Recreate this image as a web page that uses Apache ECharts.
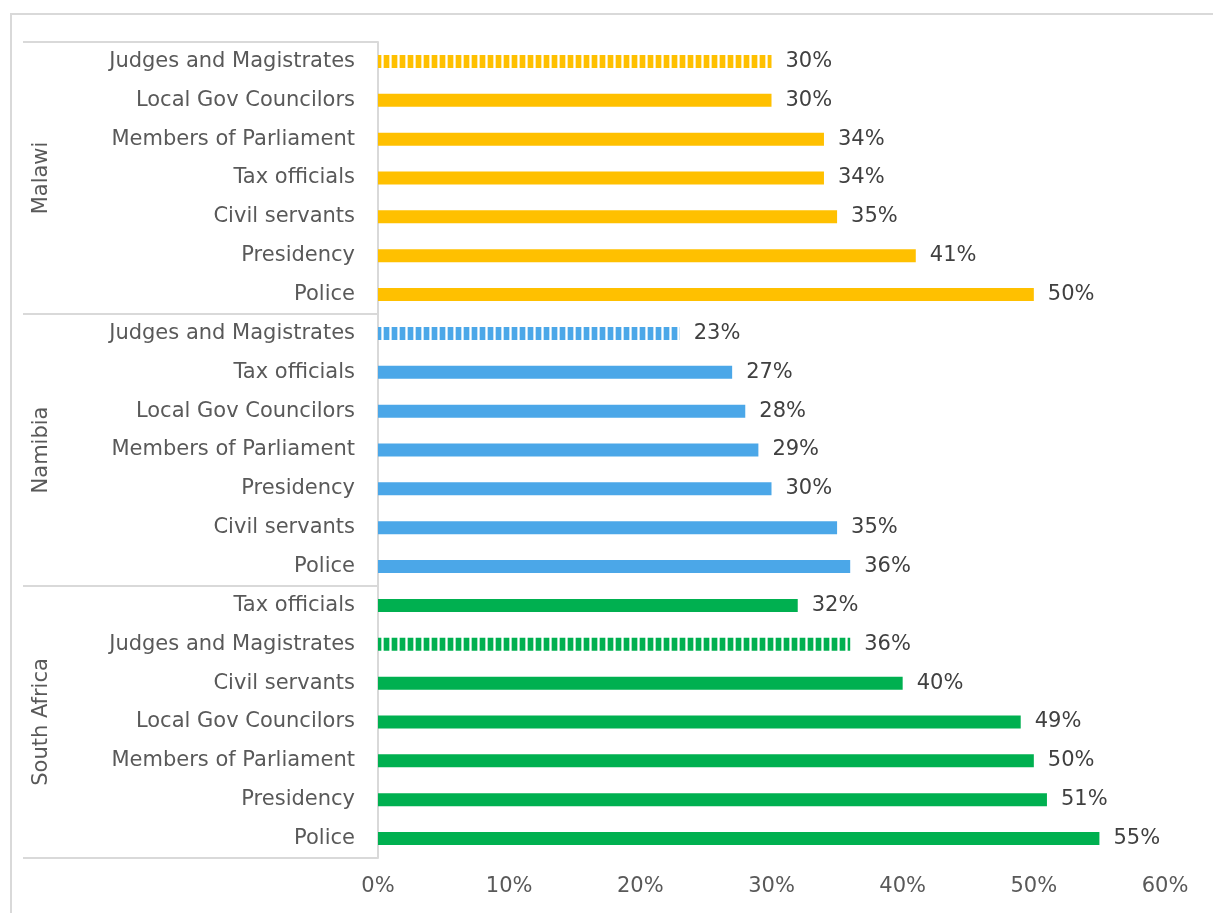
<!DOCTYPE html>
<html>
<head>
<meta charset="utf-8">
<title>Perceived corruption by institution</title>
<script src="https://cdn.jsdelivr.net/npm/echarts@6/dist/echarts.min.js"></script>
<style>
  html, body { margin: 0; padding: 0; background: #ffffff; }
  #wrap { position: relative; width: 1213px; height: 913px; overflow: hidden; }
  #frame { position: absolute; left: 10px; top: 13px; width: 1300px; height: 1000px;
           border: 2px solid #d9d9d9; box-sizing: border-box; }
  #chart { position: absolute; left: 0; top: 0; width: 1213px; height: 913px; }
</style>
</head>
<body>
<div id="wrap">
  <div id="frame"></div>
  <div id="chart"></div>
</div>
<script>
// Country groups, listed top to bottom
const groups = ['Malawi', 'Namibia', 'South Africa'];

// Institutions and shares (%) within each country, top to bottom
const malawiCats = ['Judges and Magistrates', 'Local Gov Councilors', 'Members of Parliament', 'Tax officials', 'Civil servants', 'Presidency', 'Police'];
const malawiVals = [30, 30, 34, 34, 35, 41, 50];

const namibiaCats = ['Judges and Magistrates', 'Tax officials', 'Local Gov Councilors', 'Members of Parliament', 'Presidency', 'Civil servants', 'Police'];
const namibiaVals = [23, 27, 28, 29, 30, 35, 36];

const southAfricaCats = ['Tax officials', 'Judges and Magistrates', 'Civil servants', 'Local Gov Councilors', 'Members of Parliament', 'Presidency', 'Police'];
const southAfricaVals = [32, 36, 40, 49, 50, 51, 55];

// Axis ticks
const xTicks = [0, 10, 20, 30, 40, 50, 60];

const groupColors = ['#FFC000', '#4BA7E8', '#00B050'];
const hatchedName = 'Judges and Magistrates';

// Vertical-stripe fill used for the judiciary bars
function stripePattern(color) {
  const c = document.createElement('canvas');
  c.width = 8; c.height = 16;
  const ctx = c.getContext('2d');
  ctx.fillStyle = '#ffffff';
  ctx.fillRect(0, 0, 8, 16);
  ctx.fillStyle = color;
  ctx.fillRect(0, 0, 5, 16);
  ctx.globalAlpha = 0.35;
  ctx.fillRect(5, 0, 1, 16);
  ctx.fillRect(7, 0, 1, 16);
  return { image: c, repeat: 'repeat' };
}

const perGroup = [
  [malawiCats, malawiVals],
  [namibiaCats, namibiaVals],
  [southAfricaCats, southAfricaVals]
];

const categoryKeys = [];
const barData = [];
perGroup.forEach(function (g, gi) {
  g[0].forEach(function (name, i) {
    categoryKeys.push(groups[gi] + '|' + name);
    const color = groupColors[gi];
    barData.push({
      value: g[1][i],
      itemStyle: { color: name === hatchedName ? stripePattern(color) : color }
    });
  });
});

const FONT = 'DejaVu Sans';
const FS = 21;
const chart = echarts.init(document.getElementById('chart'), null, { renderer: 'canvas' });

chart.setOption({
  animation: false,
  backgroundColor: 'transparent',
  grid: { left: 378, right: 48, top: 42, bottom: 55, containLabel: false },
  xAxis: {
    type: 'value',
    min: xTicks[0],
    max: xTicks[xTicks.length - 1],
    interval: 10,
    axisLine: { show: false },
    axisTick: { show: false },
    splitLine: { show: false },
    axisLabel: {
      formatter: '{value}%',
      fontFamily: FONT, fontSize: FS, color: '#595959', margin: 18
    }
  },
  yAxis: [
    {
      type: 'category',
      inverse: true,
      data: categoryKeys,
      axisLine: { show: true, lineStyle: { color: '#d9d9d9', width: 2 } },
      axisTick: { show: false },
      axisLabel: {
        interval: 0,
        formatter: function (v) { return v.split('|')[1]; },
        fontFamily: FONT, fontSize: FS, color: '#595959', margin: 23
      }
    },
    {
      type: 'category',
      inverse: true,
      position: 'left',
      data: groups,
      axisLine: { show: false },
      axisTick: {
        show: true, interval: 0, length: 355,
        lineStyle: { color: '#d9d9d9', width: 2 }
      },
      axisLabel: {
        interval: 0, rotate: 90, margin: 326,
        fontFamily: FONT, fontSize: FS, color: '#595959'
      }
    }
  ],
  series: [{
    type: 'bar',
    yAxisIndex: 0,
    barWidth: 13,
    data: barData,
    label: {
      show: true,
      position: 'right',
      distance: 14,
      formatter: '{c}%',
      fontFamily: FONT, fontSize: FS, color: '#404040'
    }
  }]
});
</script>
</body>
</html>
